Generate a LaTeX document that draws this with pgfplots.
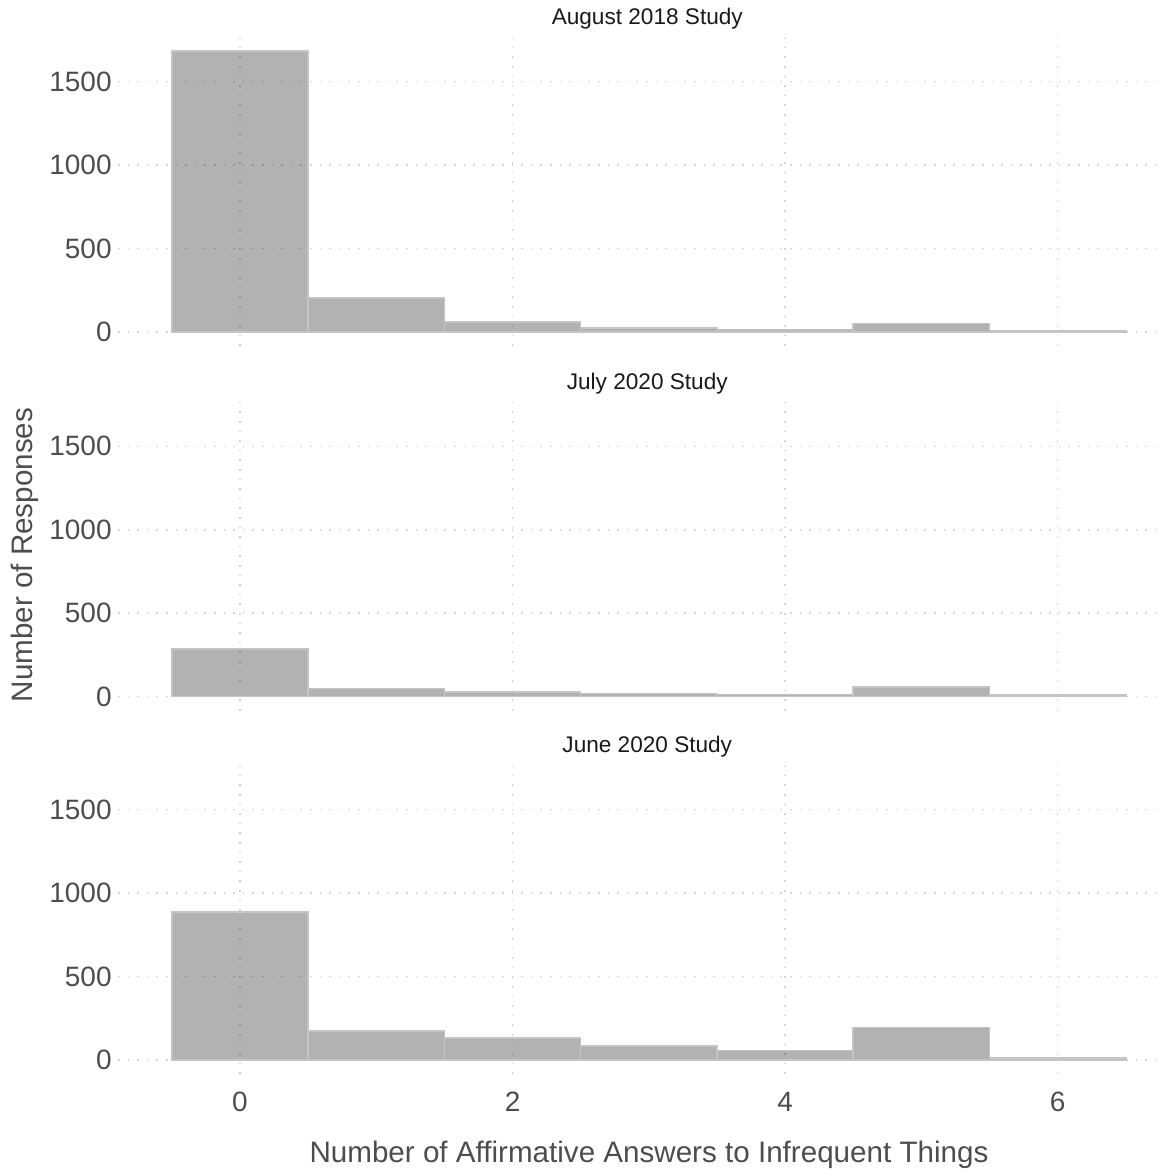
\documentclass[border=0pt]{standalone}
\usepackage{pgfplots}
\pgfplotsset{compat=1.18}
\usepackage{fontspec}
\setmainfont{Liberation Sans}
\definecolor{tickgray}{HTML}{4D4D4D}
\definecolor{gridgray}{HTML}{D4D4D4}
\definecolor{barline}{HTML}{C4C4C4}
\pgfplotsset{panel/.style={
  scale only axis, width=523pt, height=154.2pt,
  xmin=-0.895, xmax=6.78, ymin=-84, ymax=1764,
  axis line style={draw=none}, major tick length=0pt,
  xtick={0,2,4,6}, ytick={0,500,1000,1500},
  grid=major, grid style={gridgray, line width=0.8pt, dash pattern=on 0.8pt off 4pt},
  /pgf/number format/assume math mode=true,
  /pgf/number format/1000 sep={},
  scaled y ticks=false,
  yticklabel style={font=\fontsize{14}{16}\selectfont, text=tickgray, inner sep=0pt, xshift=-3pt},
  xticklabel style={font=\fontsize{14}{16}\selectfont, text=tickgray, inner sep=0pt, yshift=-9pt},
  anchor=south west,
  title style={font=\fontsize{11.3}{13}\selectfont, text=black!90, at={(axis description cs:0.506,1)}, anchor=center, yshift=3.5pt},
}, bars/.style={ybar interval, fill=black, fill opacity=0.3, draw=barline, draw opacity=1, line width=0.8pt}}
\begin{document}
\begin{tikzpicture}
\useasboundingbox (0,0) rectangle (582pt,586.5pt);
\begin{axis}[panel, at={(59pt,413.5pt)}, title={August 2018 Study}, xticklabels={}]
\addplot[bars] coordinates {(-0.5,1682) (0.5,204) (1.5,58) (2.5,24) (3.5,15) (4.5,50) (5.5,6) (6.5,6)};
\end{axis}
\begin{axis}[panel, at={(59pt,231.15pt)}, title={July 2020 Study}, xticklabels={}]
\addplot[bars] coordinates {(-0.5,286) (0.5,50) (1.5,28) (2.5,18) (3.5,14) (4.5,58) (5.5,10) (6.5,10)};
\end{axis}
\begin{axis}[panel, at={(59pt,49.5pt)}, title={June 2020 Study}]
\addplot[bars] coordinates {(-0.5,887) (0.5,174) (1.5,130) (2.5,82) (3.5,58) (4.5,194) (5.5,12) (6.5,12)};
\end{axis}
\node[font=\fontsize{14.8}{17}\selectfont, text=tickgray] at (324.5pt,9pt) {Number of Affirmative Answers to Infrequent Things};
\node[font=\fontsize{14.8}{17}\selectfont, text=tickgray, rotate=90] at (12.5pt,309pt) {Number of Responses};
\end{tikzpicture}
\end{document}
